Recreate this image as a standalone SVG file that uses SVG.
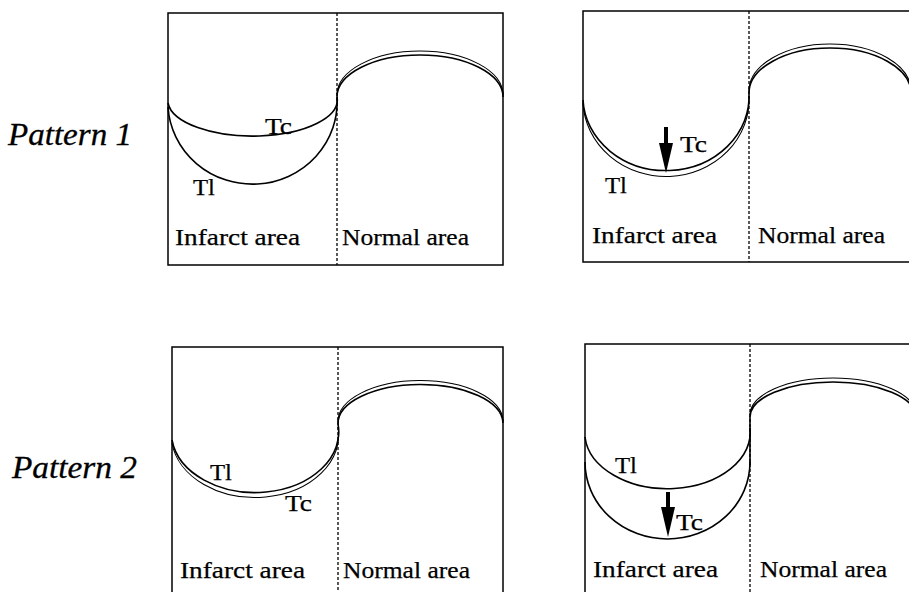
<svg xmlns="http://www.w3.org/2000/svg" width="909" height="592" viewBox="0 0 909 592">
<style>
.box{fill:none;stroke:#000;stroke-width:1.5}
.div{stroke:#000;stroke-width:1.3;stroke-dasharray:3 2}
.c{fill:none;stroke:#000;stroke-width:1.6}
.c2{fill:none;stroke:#000;stroke-width:1.1}
.t{font-family:"Liberation Serif","Times New Roman",serif;font-size:24px;fill:#000;stroke:#000;stroke-width:0.25}
.p{font-family:"Liberation Serif","Times New Roman",serif;font-size:31px;font-style:italic;fill:#000;stroke:#000;stroke-width:0.3}
.ar{fill:#000}
</style>
<rect width="909" height="592" fill="#fff"/>
<text class="p" x="8" y="145" textLength="124" lengthAdjust="spacingAndGlyphs">Pattern 1</text>
<text class="p" x="12" y="478" textLength="125" lengthAdjust="spacingAndGlyphs">Pattern 2</text>

<g id="panel1">
<rect class="box" x="168" y="13" width="335" height="252"/>
<line class="div" x1="337" y1="13" x2="337" y2="265"/>
<path class="c" d="M168,103 A84.5,36 0 0 0 337,97"/>
<path class="c" d="M168,107 A84.5,82 0 0 0 337,97"/>
<path class="c" d="M337,97 A83,42 0 0 1 503,97"/>
<path class="c2" d="M337,95 A83,44 0 0 1 503,95"/>
<text class="t" x="265" y="134" textLength="27" lengthAdjust="spacingAndGlyphs">Tc</text>
<text class="t" x="193" y="195" textLength="22" lengthAdjust="spacingAndGlyphs">Tl</text>
<text class="t" x="175" y="245" textLength="125" lengthAdjust="spacingAndGlyphs">Infarct area</text>
<text class="t" x="342" y="245" textLength="127" lengthAdjust="spacingAndGlyphs">Normal area</text>
</g>

<g id="panel2">
<rect class="box" x="583" y="11" width="400" height="251"/>
<line class="div" x1="749" y1="11" x2="749" y2="262"/>
<path class="c" d="M583,100 A83,74 0 0 0 749,93"/>
<path class="c2" d="M583,103 A83,77 0 0 0 749,96"/>
<path class="c" d="M749,93 A81,45 0 0 1 911,93"/>
<path class="c2" d="M749,91 A81,47 0 0 1 911,91"/>
<rect class="ar" x="664" y="127" width="4" height="18"/>
<polygon class="ar" points="659,143 673,143 666,173"/>
<text class="t" x="680" y="152" textLength="27" lengthAdjust="spacingAndGlyphs">Tc</text>
<text class="t" x="605" y="193" textLength="22" lengthAdjust="spacingAndGlyphs">Tl</text>
<text class="t" x="592" y="243" textLength="125" lengthAdjust="spacingAndGlyphs">Infarct area</text>
<text class="t" x="758" y="243" textLength="127" lengthAdjust="spacingAndGlyphs">Normal area</text>
</g>

<g id="panel3">
<rect class="box" x="172" y="347" width="331" height="300"/>
<line class="div" x1="338" y1="347" x2="338" y2="592"/>
<path class="c" d="M172,440 A83,60 0 0 0 338,424"/>
<path class="c2" d="M172,443 A83,62 0 0 0 338,427"/>
<path class="c" d="M338,424 A82.5,39 0 0 1 503,423"/>
<path class="c2" d="M338,422 A82.5,41 0 0 1 503,421"/>
<text class="t" x="210" y="480" textLength="22" lengthAdjust="spacingAndGlyphs">Tl</text>
<text class="t" x="285" y="511" textLength="27" lengthAdjust="spacingAndGlyphs">Tc</text>
<text class="t" x="180" y="578" textLength="125" lengthAdjust="spacingAndGlyphs">Infarct area</text>
<text class="t" x="343" y="578" textLength="127" lengthAdjust="spacingAndGlyphs">Normal area</text>
</g>

<g id="panel4">
<rect class="box" x="585" y="344" width="400" height="300"/>
<line class="div" x1="750" y1="344" x2="750" y2="592"/>
<path class="c" d="M585,437 A82.5,56 0 0 0 750,428"/>
<path class="c" d="M585,462 A82.5,77 0 0 0 750,462"/>
<line class="c" x1="750" y1="417" x2="750" y2="465"/>
<path class="c" d="M750,417 A83,35 0 0 1 916,417"/>
<path class="c2" d="M750,415 A83,37 0 0 1 916,415"/>
<rect class="ar" x="666" y="492" width="4" height="17"/>
<polygon class="ar" points="661,507 675,507 668,537"/>
<text class="t" x="615" y="473" textLength="22" lengthAdjust="spacingAndGlyphs">Tl</text>
<text class="t" x="676" y="530" textLength="27" lengthAdjust="spacingAndGlyphs">Tc</text>
<text class="t" x="593" y="577" textLength="125" lengthAdjust="spacingAndGlyphs">Infarct area</text>
<text class="t" x="760" y="577" textLength="127" lengthAdjust="spacingAndGlyphs">Normal area</text>
</g>
</svg>
